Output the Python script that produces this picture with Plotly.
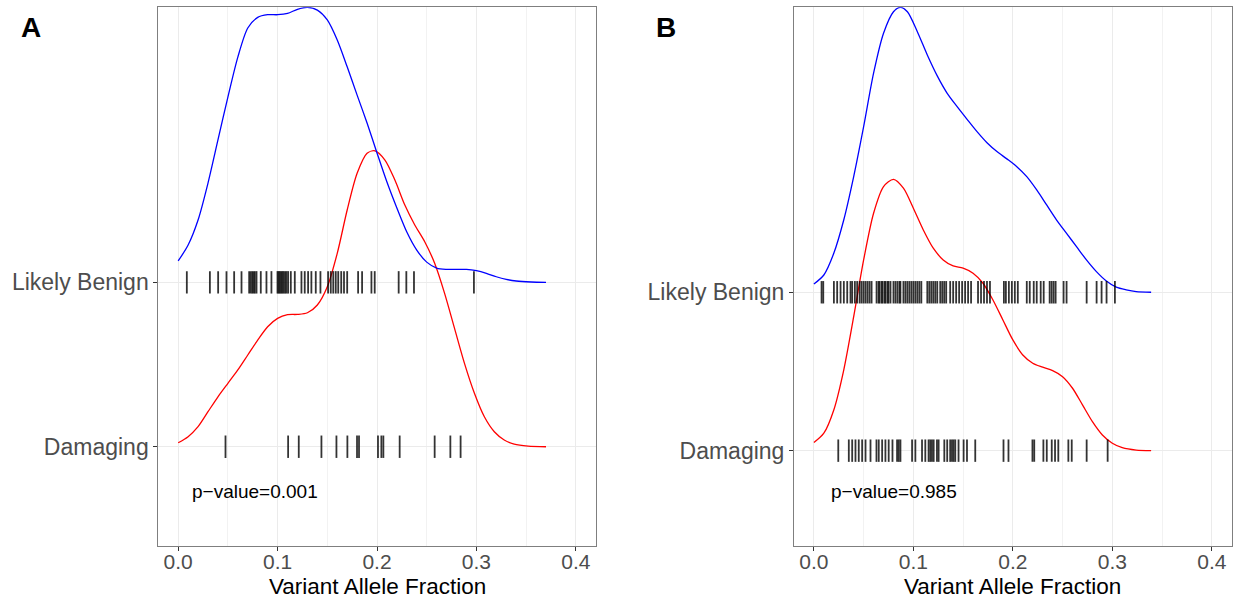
import plotly.graph_objects as go

# ---------------- Panel A data ----------------
a_benign_x = [0.00, 0.01, 0.02, 0.03, 0.04, 0.05, 0.06, 0.07, 0.08, 0.09, 0.10, 0.11, 0.12, 0.13,
              0.14, 0.15, 0.16, 0.17, 0.18, 0.19, 0.20, 0.21, 0.22, 0.23, 0.24, 0.25, 0.26, 0.27,
              0.28, 0.29, 0.30, 0.31, 0.32, 0.33, 0.34, 0.355, 0.37]
a_benign_d = [0.130, 0.227, 0.379, 0.604, 0.866, 1.127, 1.370, 1.547, 1.612, 1.628, 1.628, 1.636,
              1.661, 1.673, 1.656, 1.596, 1.474, 1.311, 1.139, 0.969, 0.787, 0.610, 0.452, 0.306,
              0.196, 0.123, 0.087, 0.079, 0.079, 0.079, 0.071, 0.055, 0.034, 0.018, 0.008, 0.002, 0.0]

a_damag_x = [0.00, 0.01, 0.02, 0.03, 0.04, 0.05, 0.06, 0.07, 0.08, 0.09, 0.10, 0.11, 0.12, 0.13,
             0.14, 0.15, 0.16, 0.17, 0.18, 0.19, 0.198, 0.208, 0.218, 0.228, 0.238, 0.248, 0.258,
             0.268, 0.278, 0.288, 0.298, 0.308, 0.318, 0.328, 0.338, 0.352, 0.37]
a_damag_d = [0.024, 0.061, 0.122, 0.213, 0.304, 0.386, 0.467, 0.558, 0.649, 0.730, 0.781, 0.803,
             0.805, 0.815, 0.862, 0.973, 1.176, 1.440, 1.663, 1.785, 1.800, 1.744, 1.622, 1.470,
             1.349, 1.247, 1.116, 0.933, 0.720, 0.507, 0.325, 0.182, 0.091, 0.041, 0.016, 0.004, 0.0]

a_benign_rug = [0.0087, 0.0319, 0.0402, 0.0486, 0.0563, 0.0637, 0.0714, 0.0730, 0.0745, 0.0758,
                0.0771, 0.0788, 0.0831, 0.0888, 0.0938, 0.0999, 0.1010, 0.1022, 0.1035, 0.1048,
                0.1060, 0.1075, 0.1089, 0.1106, 0.1133, 0.1173, 0.1240, 0.1273, 0.1307, 0.1340,
                0.1384, 0.1431, 0.1508, 0.1535, 0.1560, 0.1585, 0.1610, 0.1640, 0.1668, 0.1700,
                0.1810, 0.1850, 0.1944, 0.1977, 0.2218, 0.2295, 0.2372, 0.2975]
a_damag_rug = [0.0476, 0.1106, 0.1213, 0.1441, 0.1592, 0.1702, 0.1799, 0.1819, 0.2010, 0.2044,
               0.2064, 0.2228, 0.2580, 0.2738, 0.2841]

# ---------------- Panel B data ----------------
b_benign_x = [0.00, 0.01, 0.02, 0.03, 0.04, 0.05, 0.06, 0.07, 0.08, 0.087, 0.094, 0.104, 0.114,
              0.124, 0.134, 0.144, 0.154, 0.164, 0.174, 0.184, 0.194, 0.204, 0.214, 0.224, 0.234,
              0.244, 0.254, 0.264, 0.274, 0.284, 0.294, 0.304, 0.314, 0.324, 0.339]
b_benign_d = [0.052, 0.109, 0.246, 0.456, 0.730, 1.045, 1.383, 1.635, 1.771, 1.799, 1.771, 1.645,
              1.498, 1.366, 1.256, 1.172, 1.092, 1.014, 0.944, 0.888, 0.842, 0.793, 0.730, 0.646,
              0.551, 0.456, 0.372, 0.288, 0.204, 0.130, 0.071, 0.032, 0.015, 0.004, 0.0]

b_damag_x = [0.00, 0.01, 0.02, 0.03, 0.04, 0.05, 0.06, 0.07, 0.08, 0.09, 0.10, 0.11, 0.12, 0.13,
             0.14, 0.15, 0.16, 0.17, 0.18, 0.19, 0.20, 0.21, 0.22, 0.23, 0.24, 0.25, 0.26, 0.27,
             0.28, 0.29, 0.30, 0.31, 0.324, 0.339]
b_damag_d = [0.051, 0.110, 0.257, 0.509, 0.846, 1.204, 1.499, 1.667, 1.713, 1.657, 1.530, 1.393,
             1.278, 1.204, 1.166, 1.152, 1.120, 1.057, 0.951, 0.825, 0.699, 0.604, 0.552, 0.527,
             0.505, 0.467, 0.394, 0.289, 0.183, 0.099, 0.047, 0.019, 0.004, 0.0]

b_benign_rug = [0.0077, 0.0094, 0.0201, 0.0234, 0.0268, 0.0301, 0.0335, 0.0368, 0.0385, 0.0412,
                0.0435, 0.046, 0.048, 0.050, 0.052, 0.054, 0.056, 0.058, 0.063, 0.065, 0.066,
                0.068, 0.069, 0.071, 0.072, 0.074, 0.075, 0.077, 0.080, 0.082, 0.084, 0.086,
                0.087, 0.090, 0.092, 0.094, 0.096, 0.098, 0.100, 0.102, 0.104, 0.106, 0.108,
                0.114, 0.116, 0.118, 0.120, 0.122, 0.124, 0.127, 0.129, 0.131, 0.133, 0.137,
                0.140, 0.143, 0.146, 0.149, 0.152, 0.155, 0.158, 0.165, 0.168, 0.171, 0.174,
                0.177, 0.191, 0.193, 0.196, 0.199, 0.202, 0.205, 0.214, 0.217, 0.221, 0.224,
                0.228, 0.231, 0.237, 0.239, 0.241, 0.243, 0.251, 0.254, 0.2742, 0.2842, 0.2892,
                0.2942, 0.3026]
b_damag_rug = [0.0245, 0.0351, 0.0385, 0.0418, 0.0451, 0.0485, 0.0519, 0.0569, 0.0629, 0.0652,
               0.0686, 0.0719, 0.0752, 0.0790, 0.0836, 0.0853, 0.0870, 0.0987, 0.1020, 0.1087,
               0.1120, 0.1153, 0.1170, 0.1187, 0.1204, 0.1237, 0.1254, 0.1311, 0.1340, 0.1370,
               0.1388, 0.1404, 0.1421, 0.1454, 0.1505, 0.1539, 0.1622, 0.1906, 0.1956, 0.2197,
               0.2215, 0.2307, 0.2341, 0.2391, 0.2424, 0.2457, 0.2558, 0.2592, 0.2742, 0.2953]

categories = ["Damaging", "Likely Benign"]
cat_pos = {"Damaging": 1, "Likely Benign": 2}
pvalues = ["p\u2212value=0.001", "p\u2212value=0.985"]
panel_letters = ["A", "B"]
x_ticks = [0.0, 0.1, 0.2, 0.3, 0.4]
x_title = "Variant Allele Fraction"

FONT = "Liberation Sans, Arial, sans-serif"
RUG_COLOR = "rgba(0,0,0,0.8)"
fig = go.Figure()


def add_panel(xa, ya, bx, bd, dx, dd, brug, drug):
    fig.add_trace(go.Scatter(x=dx, y=[cat_pos["Damaging"] + v for v in dd], mode="lines",
                             line=dict(color="#FF0000", width=1.3, shape="spline", smoothing=0.8),
                             xaxis=xa, yaxis=ya, showlegend=False, hoverinfo="skip"))
    fig.add_trace(go.Scatter(x=bx, y=[cat_pos["Likely Benign"] + v for v in bd], mode="lines",
                             line=dict(color="#0000FF", width=1.3, shape="spline", smoothing=0.8),
                             xaxis=xa, yaxis=ya, showlegend=False, hoverinfo="skip"))
    for rug, cat in ((brug, "Likely Benign"), (drug, "Damaging")):
        fig.add_trace(go.Scatter(x=rug, y=[cat_pos[cat]] * len(rug), mode="markers",
                                 marker=dict(symbol="line-ns-open", size=16, color=RUG_COLOR,
                                             line=dict(color=RUG_COLOR, width=1.8)),
                                 xaxis=xa, yaxis=ya, showlegend=False, hoverinfo="skip"))


add_panel("x", "y", a_benign_x, a_benign_d, a_damag_x, a_damag_d, a_benign_rug, a_damag_rug)
add_panel("x2", "y2", b_benign_x, b_benign_d, b_damag_x, b_damag_d, b_benign_rug, b_damag_rug)

xaxis_common = dict(range=[-0.02, 0.42], tickvals=x_ticks, ticktext=[f"{t:.1f}" for t in x_ticks],
                    ticks="outside", ticklen=4, tickcolor="#333333", tickwidth=1,
                    ticklabelstandoff=-7,
                    tickfont=dict(family=FONT, size=21, color="#4d4d4d"),
                    showgrid=True, gridcolor="#ebebeb", gridwidth=1,
                    minor=dict(tickvals=[0.05, 0.15, 0.25, 0.35], showgrid=True,
                               gridcolor="#f2f2f2", gridwidth=0.6, ticks=""),
                    showline=True, linecolor="#7f7f7f", linewidth=1, mirror=True,
                    zeroline=False, automargin=False)
yaxis_common = dict(tickvals=[cat_pos[c] for c in categories], ticktext=categories,
                    ticks="outside", ticklen=4, tickcolor="#333333", tickwidth=1,
                    tickfont=dict(family=FONT, size=23, color="#4d4d4d"),
                    showgrid=True, gridcolor="#ebebeb", gridwidth=1,
                    showline=True, linecolor="#7f7f7f", linewidth=1, mirror=True,
                    zeroline=False, automargin=False)

xdomA = [158.3 / 1239, 595.7 / 1239]
xdomB = [794 / 1239, 1231.7 / 1239]
ydom = [1 - 545.7 / 600, 1 - 7.3 / 600]
fig.update_layout(
    width=1239, height=600,
    margin=dict(l=0, r=0, t=0, b=0),
    paper_bgcolor="white", plot_bgcolor="white",
    xaxis=dict(xaxis_common, domain=xdomA, anchor="y"),
    yaxis=dict(yaxis_common, domain=ydom, range=[0.398, 3.673], anchor="x"),
    xaxis2=dict(xaxis_common, domain=xdomB, anchor="y2"),
    yaxis2=dict(yaxis_common, domain=ydom, range=[0.400, 3.799], anchor="x2"),
    font=dict(family=FONT),
)

# axis titles
for dom in (xdomA, xdomB):
    fig.add_annotation(x=(dom[0] + dom[1]) / 2, y=1 - 586 / 600, xref="paper", yref="paper",
                       xanchor="center", yanchor="middle", text=x_title, showarrow=False,
                       font=dict(family=FONT, size=22.5, color="#000000"))

fig.add_annotation(x=0.077, y=0.73, xref="x", yref="y", text=pvalues[0], showarrow=False,
                   xanchor="center", yanchor="middle",
                   font=dict(family=FONT, size=19, color="#000000"))
fig.add_annotation(x=0.0805, y=0.74, xref="x2", yref="y2", text=pvalues[1], showarrow=False,
                   xanchor="center", yanchor="middle",
                   font=dict(family=FONT, size=19, color="#000000"))
fig.add_annotation(x=30.5 / 1239, y=1 - 28 / 600, xref="paper", yref="paper",
                   text="<b>" + panel_letters[0] + "</b>", xanchor="center", yanchor="middle",
                   showarrow=False, font=dict(family=FONT, size=28, color="#000000"))
fig.add_annotation(x=666 / 1239, y=1 - 28 / 600, xref="paper", yref="paper",
                   text="<b>" + panel_letters[1] + "</b>", xanchor="center", yanchor="middle",
                   showarrow=False, font=dict(family=FONT, size=28, color="#000000"))

fig.write_html("out.html")
